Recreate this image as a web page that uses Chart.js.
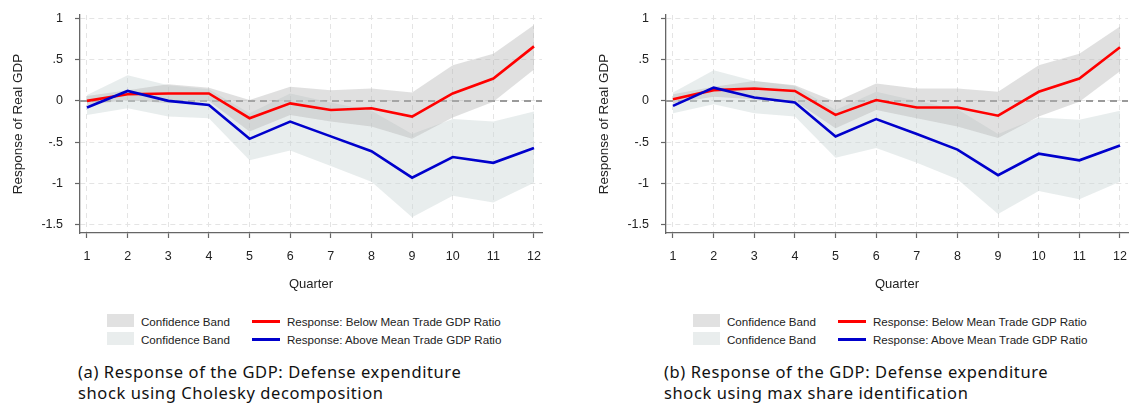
<!DOCTYPE html>
<html lang="en">
<head>
<meta charset="UTF-8">
<title>Response of Real GDP</title>
<script src="https://cdn.jsdelivr.net/npm/chart.js"></script>
<style>
  body { margin: 0; background: #fff; width: 1134px; height: 405px; overflow: hidden; position: relative; }
  .panel { position: absolute; top: 0; width: 567px; height: 405px; }
  .panel canvas { position: absolute; left: 0; top: -5px; }
  .sw { position: absolute; width: 27px; height: 13px; }
  .ln { position: absolute; width: 28px; height: 3px; }
  .lt { position: absolute; font: 11.6px "Liberation Sans", Arial, sans-serif; color: #222; line-height: 14px; white-space: nowrap; }
  .cap { position: absolute; left: 78px; top: 361px; font: 16.5px "Noto Sans", sans-serif; letter-spacing: 0.6px; color: #111; line-height: 21px; white-space: nowrap; }
</style>
</head>
<body>

<div class="panel" style="left:0">
  <canvas id="chartA" width="567" height="300"></canvas>
  <div class="sw" style="left:107px;top:314px;background:#e1e1e1"></div>
  <div class="sw" style="left:107px;top:332px;background:#e9eded"></div>
  <div class="lt" style="left:141px;top:315px">Confidence Band</div>
  <div class="lt" style="left:141px;top:333px">Confidence Band</div>
  <div class="ln" style="left:252px;top:320px;background:#ff0000"></div>
  <div class="ln" style="left:252px;top:338px;background:#0000cc"></div>
  <div class="lt" style="left:287px;top:315px">Response: Below Mean Trade GDP Ratio</div>
  <div class="lt" style="left:287px;top:333px">Response: Above Mean Trade GDP Ratio</div>
  <div class="cap">(a) Response of the GDP: Defense expenditure<br>shock using Cholesky decomposition</div>
</div>

<div class="panel" style="left:586px">
  <canvas id="chartB" width="567" height="300"></canvas>
  <div class="sw" style="left:107px;top:314px;background:#e1e1e1"></div>
  <div class="sw" style="left:107px;top:332px;background:#e9eded"></div>
  <div class="lt" style="left:141px;top:315px">Confidence Band</div>
  <div class="lt" style="left:141px;top:333px">Confidence Band</div>
  <div class="ln" style="left:252px;top:320px;background:#ff0000"></div>
  <div class="ln" style="left:252px;top:338px;background:#0000cc"></div>
  <div class="lt" style="left:287px;top:315px">Response: Below Mean Trade GDP Ratio</div>
  <div class="lt" style="left:287px;top:333px">Response: Above Mean Trade GDP Ratio</div>
  <div class="cap">(b) Response of the GDP: Defense expenditure<br>shock using max share identification</div>
</div>

<script>
    const quarters = [1, 2, 3, 4, 5, 6, 7, 8, 9, 10, 11, 12];
    const yTicks = [1, 0.5, 0, -0.5, -1, -1.5];
    const yTickLabels = ['1', '.5', '0', '-.5', '-1', '-1.5'];

    // (a) Cholesky
    const redA = [0.00, 0.08, 0.09, 0.09, -0.21, -0.03, -0.11, -0.09, -0.19, 0.09, 0.27, 0.66];
    const redHiA = [0.06, 0.13, 0.20, 0.16, 0.01, 0.17, 0.13, 0.15, 0.10, 0.43, 0.57, 0.92];
    const redLoA = [-0.05, 0.01, -0.03, 0.00, -0.37, -0.17, -0.25, -0.31, -0.46, -0.20, -0.01, 0.38];
    const blueA = [-0.08, 0.12, 0.00, -0.05, -0.46, -0.25, -0.43, -0.61, -0.93, -0.68, -0.75, -0.57];
    const blueHiA = [0.07, 0.31, 0.19, 0.14, -0.15, 0.09, -0.02, -0.12, -0.40, -0.22, -0.25, -0.13];
    const blueLoA = [-0.17, -0.09, -0.19, -0.21, -0.72, -0.60, -0.79, -0.98, -1.41, -1.15, -1.23, -0.99];

    // (b) max share
    const redB = [0.02, 0.13, 0.15, 0.12, -0.17, 0.01, -0.08, -0.08, -0.18, 0.11, 0.27, 0.65];
    const redHiB = [0.08, 0.17, 0.24, 0.19, -0.01, 0.21, 0.15, 0.15, 0.11, 0.43, 0.57, 0.90];
    const redLoB = [-0.03, 0.05, 0.02, 0.00, -0.33, -0.11, -0.21, -0.31, -0.45, -0.19, -0.01, 0.36];
    const blueB = [-0.06, 0.16, 0.04, -0.02, -0.43, -0.22, -0.40, -0.59, -0.90, -0.64, -0.72, -0.54];
    const blueHiB = [0.10, 0.37, 0.24, 0.18, -0.11, 0.11, 0.00, -0.10, -0.40, -0.20, -0.23, -0.12];
    const blueLoB = [-0.15, -0.04, -0.15, -0.19, -0.69, -0.57, -0.75, -0.95, -1.37, -1.09, -1.19, -0.98];

    const pts = arr => arr.map((v, i) => ({ x: quarters[i], y: v }));

    // dashed reference line at zero, under the bands
    const zeroLine = {
        id: 'zeroLine',
        beforeDatasetsDraw(chart) {
            const { ctx, chartArea, scales } = chart;
            const y = scales.y.getPixelForValue(0);
            ctx.save();
            ctx.strokeStyle = '#9a9a9a';
            ctx.lineWidth = 2;
            ctx.setLineDash([7, 5]);
            ctx.beginPath();
            ctx.moveTo(chartArea.left, y);
            ctx.lineTo(chartArea.right, y);
            ctx.stroke();
            ctx.restore();
        }
    };

    function makeChart(id, red, redHi, redLo, blue, blueHi, blueLo) {
        const line = (data, color) => ({ data: pts(data), borderColor: color, borderWidth: 2.6, pointRadius: 0, fill: false, tension: 0 });
        const band = (data, color, fill) => ({ data: pts(data), borderWidth: 0, pointRadius: 0, backgroundColor: color, fill: fill, tension: 0 });
        const font = { family: '"Liberation Sans", Arial', size: 12.5 };
        new Chart(document.getElementById(id), {
            type: 'line',
            data: {
                datasets: [
                    line(blue, '#0000cc'),
                    line(red, '#ff0000'),
                    band(redHi, 'rgba(180,180,180,0.42)', '+1'),
                    band(redLo, 'transparent', false),
                    band(blueHi, 'rgba(205,215,215,0.45)', '+1'),
                    band(blueLo, 'transparent', false)
                ]
            },
            options: {
                responsive: false,
                animation: false,
                events: [],
                layout: { padding: { left: 0, top: 20, right: 25, bottom: 0 } },
                plugins: { legend: { display: false }, tooltip: { enabled: false } },
                scales: {
                    x: {
                        type: 'linear',
                        min: 0.828,
                        max: 12.197,
                        afterBuildTicks: s => { s.ticks = quarters.map(v => ({ value: v })); },
                        afterFit: s => { s.height = 62; },
                        grid: { color: '#e4e4e4', lineWidth: 1, tickColor: '#666', tickLength: 5, tickWidth: 1.2 },
                        border: { color: '#666', width: 1.3, dash: [5, 4] },
                        ticks: { color: '#222', padding: 11, font: font, maxRotation: 0 },
                        title: { display: true, text: 'Quarter', color: '#222', padding: { top: 0, bottom: 3 }, font: { family: '"Liberation Sans", Arial', size: 13 } }
                    },
                    y: {
                        min: -1.6,
                        max: 1.04,
                        afterBuildTicks: s => { s.ticks = yTicks.map(v => ({ value: v })); },
                        afterFit: s => { s.width = 80; },
                        grid: { color: '#e4e4e4', lineWidth: 1, tickColor: '#666', tickLength: 5, tickWidth: 1.2 },
                        border: { color: '#666', width: 1.3, dash: [5, 4] },
                        ticks: {
                            color: '#222', padding: 12, font: font,
                            callback: v => yTickLabels[yTicks.indexOf(v)]
                        },
                        title: { display: true, text: 'Response of Real GDP', color: '#222', padding: { top: 10, bottom: 0 }, font: { family: '"Liberation Sans", Arial', size: 13.5 } }
                    }
                }
            },
            plugins: [zeroLine]
        });
    }

    makeChart('chartA', redA, redHiA, redLoA, blueA, blueHiA, blueLoA);
    makeChart('chartB', redB, redHiB, redLoB, blueB, blueHiB, blueLoB);
</script>
</body>
</html>
